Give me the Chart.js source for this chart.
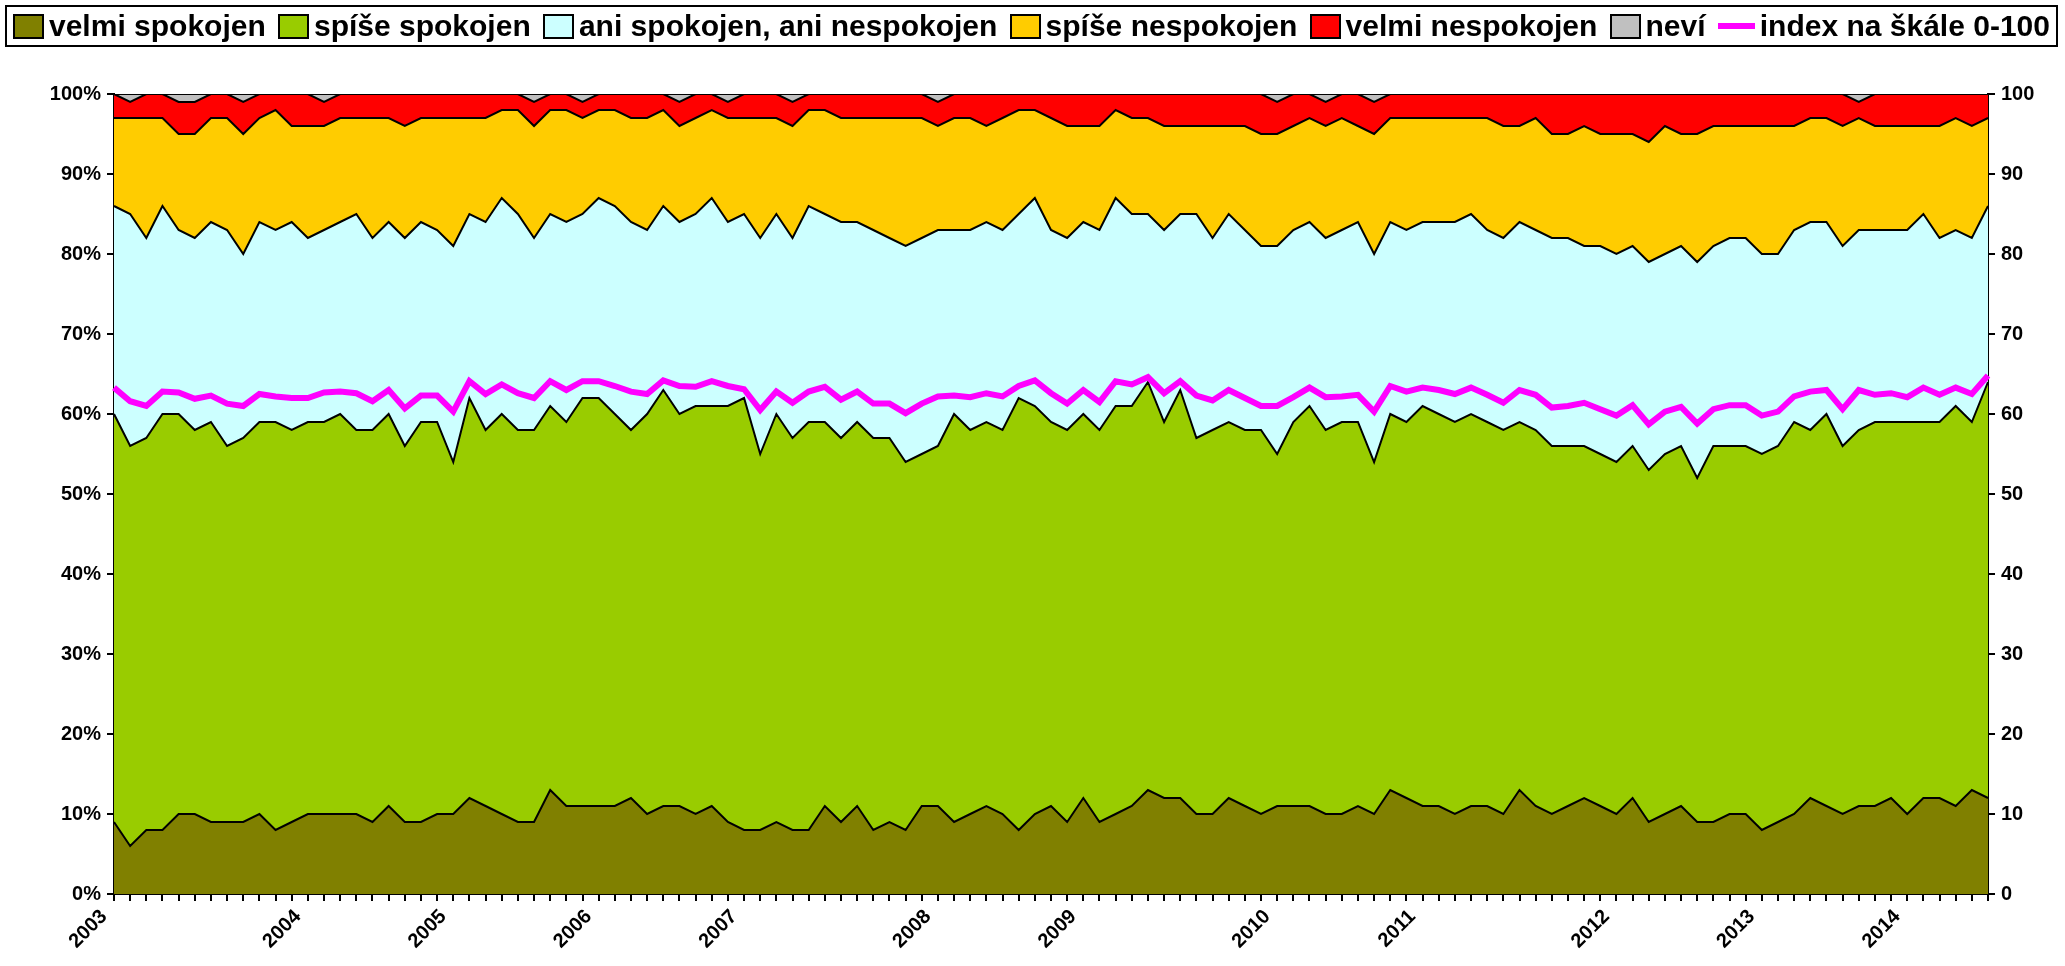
<!DOCTYPE html>
<html lang="cs">
<head>
    <meta charset="UTF-8">
    <title>Spokojenost</title>
    <script src="https://cdn.jsdelivr.net/npm/chart.js"></script>
    <style>
        body { margin: 0; background: #fff; font-family: "Liberation Sans", Arial, sans-serif; }
        .wrap { position: relative; width: 2065px; height: 966px; }
        #legend {
            position: absolute; left: 5px; top: 5px; width: 2053px; height: 42px;
            box-sizing: border-box; border: 2px solid #000;
            display: flex; align-items: center; justify-content: space-between;
            padding: 0 6px; font-weight: bold; font-size: 30px; color: #000;
        }
        .item { display: flex; align-items: center; white-space: nowrap; }
        .box { width: 31px; height: 25px; box-sizing: border-box; border: 2px solid #000; margin-right: 5px; }
        .line { width: 37px; height: 6px; background: #ff00ff; margin-right: 5px; }
    </style>
</head>
<body>
<div class="wrap">
    <canvas id="chart" width="2065" height="966"></canvas>
    <div id="legend"></div>
</div>

<script>
    // survey years, first survey index of each year
    const years = ['2003', '2004', '2005', '2006', '2007', '2008', '2009', '2010', '2011', '2012', '2013', '2014'];
    const yearFirstSurvey = [0, 12, 21, 30, 39, 51, 60, 72, 81, 93, 102, 111];
    const surveyCount = 117;

    // answers in % (stacked to 100)
    const velmiSpokojen = [9,6,8,8,10,10,9,9,9,10,8,9,10,10,10,10,9,11,9,9,10,10,12,11,10,9,9,13,11,11,11,
        11,12,10,11,11,10,11,9,8,8,9,8,8,11,9,11,8,9,8,11,11,9,10,11,10,8,10,11,9,
        12,9,10,11,13,12,12,10,10,12,11,10,11,11,11,10,10,11,10,13,12,11,11,10,11,11,10,13,11,10,
        11,12,11,10,12,9,10,11,9,9,10,10,8,9,10,12,11,10,11,11,12,10,12,12,11,13,12];
    const spiseSpokojen = [51,50,49,52,50,48,50,47,48,49,51,49,49,49,50,48,49,49,47,50,49,44,50,47,50,49,49,48,48,51,51,
        49,46,50,52,49,51,50,52,54,47,51,49,51,48,48,48,49,48,46,44,45,51,48,48,48,54,51,48,49,
        48,49,51,50,51,47,51,47,48,47,47,48,44,48,50,48,49,48,44,47,47,50,49,49,49,48,48,46,47,46,
        45,44,44,44,44,44,45,45,43,47,46,46,47,47,49,46,49,46,47,48,47,49,47,47,50,46,52];
    const aniAni = [26,29,25,26,23,24,25,27,23,25,24,26,23,24,24,27,24,24,26,25,24,27,23,26,27,27,24,24,25,23,25,
        26,26,23,23,24,24,26,23,23,27,25,25,27,26,27,25,26,25,27,27,27,23,25,25,25,23,26,24,24,
        24,25,26,24,21,24,22,28,24,26,25,23,26,24,23,24,24,25,26,24,24,23,24,25,25,24,24,25,25,26,
        26,25,26,26,25,26,25,25,27,25,26,26,25,24,24,26,24,25,25,24,24,24,26,23,22,23,22];
    const spiseNespokojen = [11,12,15,11,12,13,13,14,15,13,15,12,14,13,13,12,15,13,14,13,14,16,12,13,11,13,14,13,14,12,11,
        12,13,14,12,12,12,11,13,12,15,12,14,12,13,13,13,14,15,16,15,13,14,14,12,14,13,11,14,14,
        12,13,11,12,12,13,11,11,14,11,13,14,14,13,13,14,14,12,15,13,14,13,13,13,12,14,14,12,14,13,
        13,15,14,15,14,15,16,14,16,15,14,14,16,16,13,13,13,15,14,13,13,13,11,14,14,14,11];
    const velmiNespokojen = [3,2,3,3,4,4,3,3,4,3,2,4,4,3,3,3,3,3,4,3,3,3,3,3,2,2,3,2,2,2,2,
        2,3,3,2,3,3,2,2,3,3,3,3,2,2,3,3,3,3,3,3,3,3,3,4,3,2,2,3,4,
        4,4,2,3,3,4,4,4,4,4,4,5,4,4,3,3,3,4,4,3,3,3,3,3,3,3,4,4,3,5,
        5,4,5,5,5,6,4,5,5,4,4,4,4,4,4,3,3,4,2,4,4,4,4,4,3,4,3];
    const nevi = [0,1,0,0,1,1,0,0,1,0,0,0,0,1,0,0,0,0,0,0,0,0,0,0,0,0,1,0,0,1,0,
        0,0,0,0,1,0,0,1,0,0,0,1,0,0,0,0,0,0,0,0,1,0,0,0,0,0,0,0,0,
        0,0,0,0,0,0,0,0,0,0,0,0,1,0,0,1,0,0,1,0,0,0,0,0,0,0,0,0,0,0,
        0,0,0,0,0,0,0,0,0,0,0,0,0,0,0,0,0,0,1,0,0,0,0,0,0,0,0];

    // index on scale 0-100 (right axis)
    const indexSkala = [63.3,61.6,61.0,62.8,62.7,61.9,62.3,61.3,61.0,62.5,62.2,62.0,62.0,62.7,62.8,62.6,61.6,63.0,60.7,62.3,62.3,60.3,64.1,62.5,63.7,62.6,62.0,64.1,63.0,64.1,64.1,
        63.5,62.8,62.5,64.2,63.5,63.4,64.1,63.5,63.1,60.5,62.8,61.4,62.8,63.4,61.8,62.8,61.3,61.3,60.1,61.3,62.2,62.3,62.1,62.6,62.2,63.5,64.2,62.6,61.3,
        63.0,61.5,64.1,63.7,64.6,62.6,64.1,62.3,61.7,63.0,62.0,61.0,61.0,62.1,63.3,62.1,62.2,62.4,60.3,63.5,62.8,63.3,63.0,62.5,63.3,62.4,61.4,63.0,62.4,60.8,
        61.0,61.4,60.6,59.8,61.1,58.7,60.3,60.9,58.8,60.6,61.1,61.1,59.8,60.3,62.2,62.8,63.0,60.6,63.0,62.4,62.6,62.1,63.3,62.4,63.3,62.5,64.8];

    const categories = [];
    for (let i = 0; i < surveyCount; i++) {
        const k = yearFirstSurvey.indexOf(i);
        categories.push(k >= 0 ? years[k] : '');
    }

    const areas = [
        { label: 'velmi spokojen', data: velmiSpokojen, color: '#808000' },
        { label: 'spíše spokojen', data: spiseSpokojen, color: '#99cc00' },
        { label: 'ani spokojen, ani nespokojen', data: aniAni, color: '#ccffff' },
        { label: 'spíše nespokojen', data: spiseNespokojen, color: '#ffcc00' },
        { label: 'velmi nespokojen', data: velmiNespokojen, color: '#ff0000' },
        { label: 'neví', data: nevi, color: '#c0c0c0' }
    ];

    const datasets = areas.map((a, i) => ({
        label: a.label,
        data: a.data,
        backgroundColor: a.color,
        borderColor: '#000',
        borderWidth: 2,
        fill: i === 0 ? 'origin' : '-1',
        pointRadius: 0,
        tension: 0,
        yAxisID: 'y'
    }));
    datasets.push({
        label: 'index na škále 0-100',
        data: indexSkala,
        borderColor: '#ff00ff',
        backgroundColor: '#ff00ff',
        borderWidth: 6,
        fill: false,
        pointRadius: 0,
        tension: 0,
        yAxisID: 'y1',
        order: -1
    });

    // html legend
    const legend = document.getElementById('legend');
    datasets.forEach(ds => {
        const item = document.createElement('div');
        item.className = 'item';
        const mark = document.createElement('span');
        if (ds.fill === false) {
            mark.className = 'line';
        } else {
            mark.className = 'box';
            mark.style.background = ds.backgroundColor;
        }
        item.appendChild(mark);
        item.appendChild(document.createTextNode(ds.label));
        legend.appendChild(item);
    });

    Chart.defaults.font.family = '"Liberation Sans", Arial, sans-serif';
    Chart.defaults.font.weight = 'bold';
    Chart.defaults.font.size = 20;
    Chart.defaults.color = '#000';

    const axisGrid = { drawOnChartArea: false, color: '#000', lineWidth: 2, tickLength: 7 };
    const axisBorder = { display: true, color: '#000', width: 2 };

    new Chart(document.getElementById('chart'), {
        type: 'line',
        data: { labels: categories, datasets: datasets },
        options: {
            responsive: false,
            animation: false,
            events: [],
            layout: { padding: { top: 94, left: 0, right: 0, bottom: 0 } },
            plugins: { legend: { display: false }, tooltip: { enabled: false } },
            scales: {
                x: {
                    grid: axisGrid,
                    border: axisBorder,
                    ticks: { autoSkip: false, maxRotation: 45, minRotation: 45, padding: 4, labelOffset: -10 },
                    afterFit: s => { s.height = 72; }
                },
                y: {
                    stacked: true,
                    min: 0, max: 100,
                    grid: axisGrid,
                    border: axisBorder,
                    ticks: { stepSize: 10, padding: 6, callback: v => v + '%' },
                    afterFit: s => { s.width = 114; }
                },
                y1: {
                    position: 'right',
                    min: 0, max: 100,
                    grid: axisGrid,
                    border: axisBorder,
                    ticks: { stepSize: 10, padding: 6 },
                    afterFit: s => { s.width = 77; }
                }
            }
        }
    });
</script>
</body>
</html>
